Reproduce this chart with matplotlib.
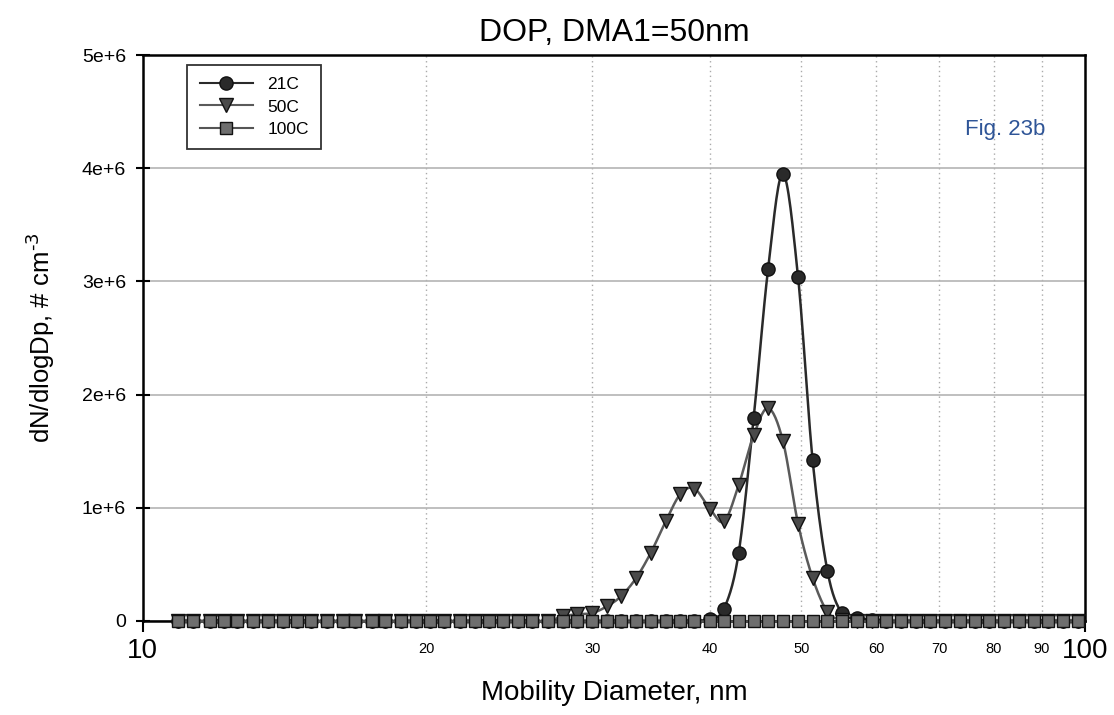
import numpy as np
import matplotlib
matplotlib.use("Agg")
import matplotlib.pyplot as plt
from matplotlib.lines import Line2D
from matplotlib.ticker import FixedLocator, FixedFormatter

plt.rcParams['font.family'] = ['Liberation Sans', 'DejaVu Sans']

# mobility diameters (nm), 64 channels/decade
diam = [10.9, 11.3, 11.8, 12.2, 12.6, 13.1, 13.6, 14.1, 14.6, 15.1,
        15.7, 16.3, 16.8, 17.5, 18.1, 18.8, 19.5, 20.2, 20.9, 21.7,
        22.5, 23.3, 24.1, 25.0, 25.9, 26.9, 27.9, 28.9, 30.0, 31.1,
        32.2, 33.4, 34.6, 35.9, 37.2, 38.5, 40.0, 41.4, 42.9, 44.5,
        46.1, 47.8, 49.6, 51.4, 53.3, 55.2, 57.3, 59.4, 61.5, 63.8,
        66.1, 68.5, 71.0, 73.7, 76.4, 79.1, 82.0, 85.1, 88.2, 91.4,
        94.7, 98.2]

# dN/dlogDp in units of 1e6 # cm^-3
n_21c = [0, 0, 0, 0, 0, 0, 0, 0, 0, 0,
         0, 0, 0, 0, 0, 0, 0, 0, 0, 0,
         0, 0, 0, 0, 0, 0, 0, 0, 0, 0,
         0, 0, 0, 0, 0, 0, 0.02, 0.11, 0.60, 1.79,
         3.11, 3.95, 3.04, 1.42, 0.44, 0.07, 0.03, 0.01, 0, 0,
         0, 0, 0, 0, 0, 0, 0, 0, 0, 0,
         0, 0]
n_50c = [0, 0, 0, 0, 0, 0, 0, 0, 0, 0,
         0, 0, 0, 0, 0, 0, 0, 0, 0, 0,
         0, 0, 0, 0, 0, 0, 0.04, 0.06, 0.07, 0.13,
         0.22, 0.38, 0.60, 0.88, 1.12, 1.17, 0.99, 0.88, 1.20, 1.64,
         1.88, 1.59, 0.86, 0.38, 0.08, 0.01, 0, 0, 0, 0,
         0, 0, 0, 0, 0, 0, 0, 0, 0, 0,
         0, 0]
n_100c = [0, 0, 0, 0, 0, 0, 0, 0, 0, 0,
          0, 0, 0, 0, 0, 0, 0, 0, 0, 0,
          0, 0, 0, 0, 0, 0, 0, 0, 0, 0,
          0, 0, 0, 0, 0, 0, 0, 0, 0, 0,
          0, 0, 0, 0, 0, 0, 0, 0, 0, 0,
          0, 0, 0, 0, 0, 0, 0, 0, 0, 0,
          0, 0]

labels = ['21C', '50C', '100C']
markers = ['o', 'v', 's']
face = ['#2a2a2a', '#4a4a4a', '#6e6e6e']
linec = ['#2a2a2a', '#5a5a5a', '#555555']


def smooth(x, y, n=16):
    # Catmull-Rom curve through the points, in log-x space (like Excel's smoothed line)
    lx = np.log10(np.asarray(x, float))
    y = np.asarray(y, float)
    px = np.concatenate([[2 * lx[0] - lx[1]], lx, [2 * lx[-1] - lx[-2]]])
    py = np.concatenate([[2 * y[0] - y[1]], y, [2 * y[-1] - y[-2]]])
    t = np.linspace(0, 1, n, endpoint=False)[:, None]
    out_x, out_y = [], []
    for i in range(1, len(px) - 2):
        for arr, out in ((px, out_x), (py, out_y)):
            p0, p1, p2, p3 = arr[i - 1], arr[i], arr[i + 1], arr[i + 2]
            c = 0.5 * ((2 * p1) + (-p0 + p2) * t + (2 * p0 - 5 * p1 + 4 * p2 - p3) * t ** 2
                       + (-p0 + 3 * p1 - 3 * p2 + p3) * t ** 3)
            out.extend(c.ravel())
    out_x.append(lx[-1])
    out_y.append(y[-1])
    return 10 ** np.array(out_x), np.array(out_y)


fig = plt.figure(figsize=(11.14, 7.15), dpi=100)
ax = fig.add_axes([0.128, 0.1315, 0.846, 0.7915])

series = [n_21c, n_50c, n_100c]
handles = []
for k in [2, 1, 0]:
    yv = np.array(series[k]) * 1e6
    sx, sy = smooth(diam, yv)
    ax.plot(sx, sy, color=linec[k], lw=1.8, zorder=3 + k, clip_on=False)
    ax.plot(diam, yv, ls='none', marker=markers[k], ms=9.5 if k < 2 else 8.5,
            mfc=face[k], mec='#111111', mew=1.0, zorder=4 + k, clip_on=False)
for k in range(3):
    handles.append(Line2D([], [], color=linec[k], lw=1.5, marker=markers[k],
                          ms=9.5 if k < 2 else 8.5, mfc=face[k], mec='#111111', mew=1.0))

ax.set_xscale('log')
ax.set_xlim(10, 100)
ax.set_ylim(0, 5e6)

ax.xaxis.set_major_locator(FixedLocator([10, 100]))
ax.xaxis.set_major_formatter(FixedFormatter(['10', '100']))
minor = [20, 30, 40, 50, 60, 70, 80, 90]
ax.xaxis.set_minor_locator(FixedLocator(minor))
ax.xaxis.set_minor_formatter(FixedFormatter([str(m) for m in minor]))
ax.tick_params(axis='x', which='major', labelsize=20, length=8, width=1.5, direction='out', pad=4)
ax.tick_params(axis='x', which='minor', labelsize=10.5, length=0, pad=15)

yt = [0, 1e6, 2e6, 3e6, 4e6, 5e6]
ax.set_yticks(yt)
ax.set_yticklabels(['0', '1e+6', '2e+6', '3e+6', '4e+6', '5e+6'])
ax.tick_params(axis='y', labelsize=14, length=10, width=1.5, direction='inout', pad=7)

ax.grid(axis='y', which='major', color='#b4b4b4', lw=1.2, ls='-')
ax.grid(axis='x', which='minor', color='#aaaaaa', lw=1.0, ls=(0, (1, 2.5)))
ax.set_axisbelow(True)

for s in ax.spines.values():
    s.set_linewidth(1.8)
    s.set_color('black')

ax.set_title('DOP, DMA1=50nm', fontsize=23, pad=10)
ax.set_xlabel('Mobility Diameter, nm', fontsize=20, labelpad=12)
ax.set_ylabel(r'dN/dlogDp, # cm$^{\text{-3}}$', fontsize=18.5, labelpad=18)

leg = ax.legend(handles, labels, loc='upper left', bbox_to_anchor=(0.042, 0.992),
                fontsize=12.5, frameon=True, fancybox=False, edgecolor='black',
                handlelength=3.1, borderpad=0.7, labelspacing=0.42, handletextpad=0.8,
                borderaxespad=0.3)
leg.get_frame().set_linewidth(1.3)

ax.text(0.915, 0.868, 'Fig. 23b', transform=ax.transAxes, fontsize=16,
        color='#2f5597', ha='center', va='center')

fig.savefig('out.png', dpi=100)
